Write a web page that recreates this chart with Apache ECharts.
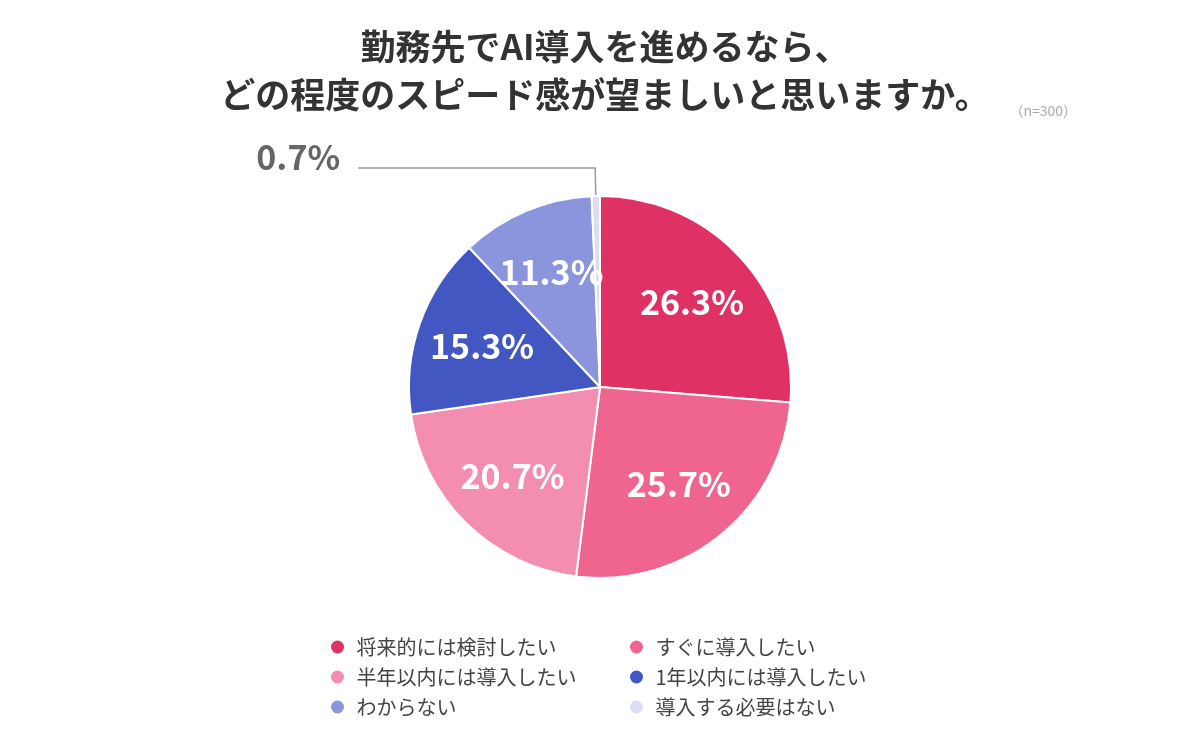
<!DOCTYPE html>
<html>
<head>
<meta charset="utf-8">
<script src="https://cdn.jsdelivr.net/npm/echarts@6/dist/echarts.min.js"></script>
<style>
  html, body { margin: 0; padding: 0; background: #fff; }
  #chart { width: 1200px; height: 754px; }
</style>
</head>
<body>
<div id="chart"></div>
<script>
// 回答項目と割合（%）
var categories = ['将来的には検討したい', 'すぐに導入したい', '半年以内には導入したい', '1年以内には導入したい', 'わからない', '導入する必要はない'];
var values = [26.3, 25.7, 20.7, 15.3, 11.3, 0.7];
var colors = ['#e03165', '#f0658f', '#f48eb0', '#4357c2', '#8a95de', '#dadef0'];
var titleLines = ['勤務先でAI導入を進めるなら、', 'どの程度のスピード感が望ましいと思いますか。'];
var note = '（n=300）';

var FONT = '"Noto Sans CJK JP", "Noto Sans", sans-serif';

var pieData = categories.map(function (name, i) {
  var item = { name: name, value: values[i], itemStyle: { color: colors[i] } };
  // 小さい項目だけ外側にラベル
  if (values[i] < 2) {
    item.label = { show: true };
    item.labelLine = { show: true };
  }
  return item;
});

// 内側ラベル用（透明）
var labelData = categories.map(function (name, i) {
  return {
    name: name,
    value: values[i],
    label: { show: values[i] >= 2 }
  };
});

var legendText = { fontFamily: FONT, fontSize: 20, color: '#444' };

var chart = echarts.init(document.getElementById('chart'));
var option = {
  backgroundColor: '#fff',
  title: {
    text: titleLines.join('\n'),
    left: 600,
    top: 18,
    textAlign: 'center',
    textStyle: {
      fontFamily: FONT,
      fontSize: 35,
      fontWeight: 'bold',
      lineHeight: 48,
      color: '#333'
    }
  },
  graphic: [{
    type: 'text',
    right: 123,
    top: 104,
    style: { text: note, fill: '#aaa', fontSize: 14, fontFamily: FONT }
  }],
  legend: [{
    data: categories.filter(function (c, i) { return i % 2 === 0; }),
    orient: 'vertical',
    left: 324,
    top: 632,
    itemGap: 10,
    icon: 'circle',
    itemWidth: 28,
    itemHeight: 15,
    textStyle: legendText
  }, {
    data: categories.filter(function (c, i) { return i % 2 === 1; }),
    orient: 'vertical',
    left: 623,
    top: 632,
    itemGap: 10,
    icon: 'circle',
    itemWidth: 28,
    itemHeight: 15,
    textStyle: legendText
  }],
  series: [{
    type: 'pie',
    center: [600, 387],
    radius: [0, 191],
    startAngle: 90,
    clockwise: true,
    avoidLabelOverlap: false,
    itemStyle: { borderColor: '#fff', borderWidth: 2 },
    label: {
      show: false,
      position: 'outside',
      formatter: '{v|{c}%}\n{s|}',
      distanceToLabelLine: 18,
      rich: {
        v: {
          fontFamily: FONT,
          fontSize: 34,
          fontWeight: 'bold',
          color: '#666',
          lineHeight: 40
        },
        s: { lineHeight: 22 }
      }
    },
    labelLine: {
      show: false,
      length: 28,
      length2: 237,
      smooth: false,
      lineStyle: { color: '#999', width: 1.5 }
    },
    emphasis: { disabled: true },
    data: pieData
  }, {
    type: 'pie',
    center: [600, 387],
    radius: [0, 244],
    startAngle: 90,
    clockwise: true,
    silent: true,
    legendHoverLink: false,
    itemStyle: { color: 'rgba(0,0,0,0)', borderWidth: 0 },
    label: {
      position: 'inside',
      formatter: '{c}%',
      fontFamily: FONT,
      fontSize: 34,
      fontWeight: 'bold',
      color: '#fff'
    },
    labelLine: { show: false },
    emphasis: { disabled: true },
    data: labelData
  }]
};
chart.setOption(option);
</script>
</body>
</html>
